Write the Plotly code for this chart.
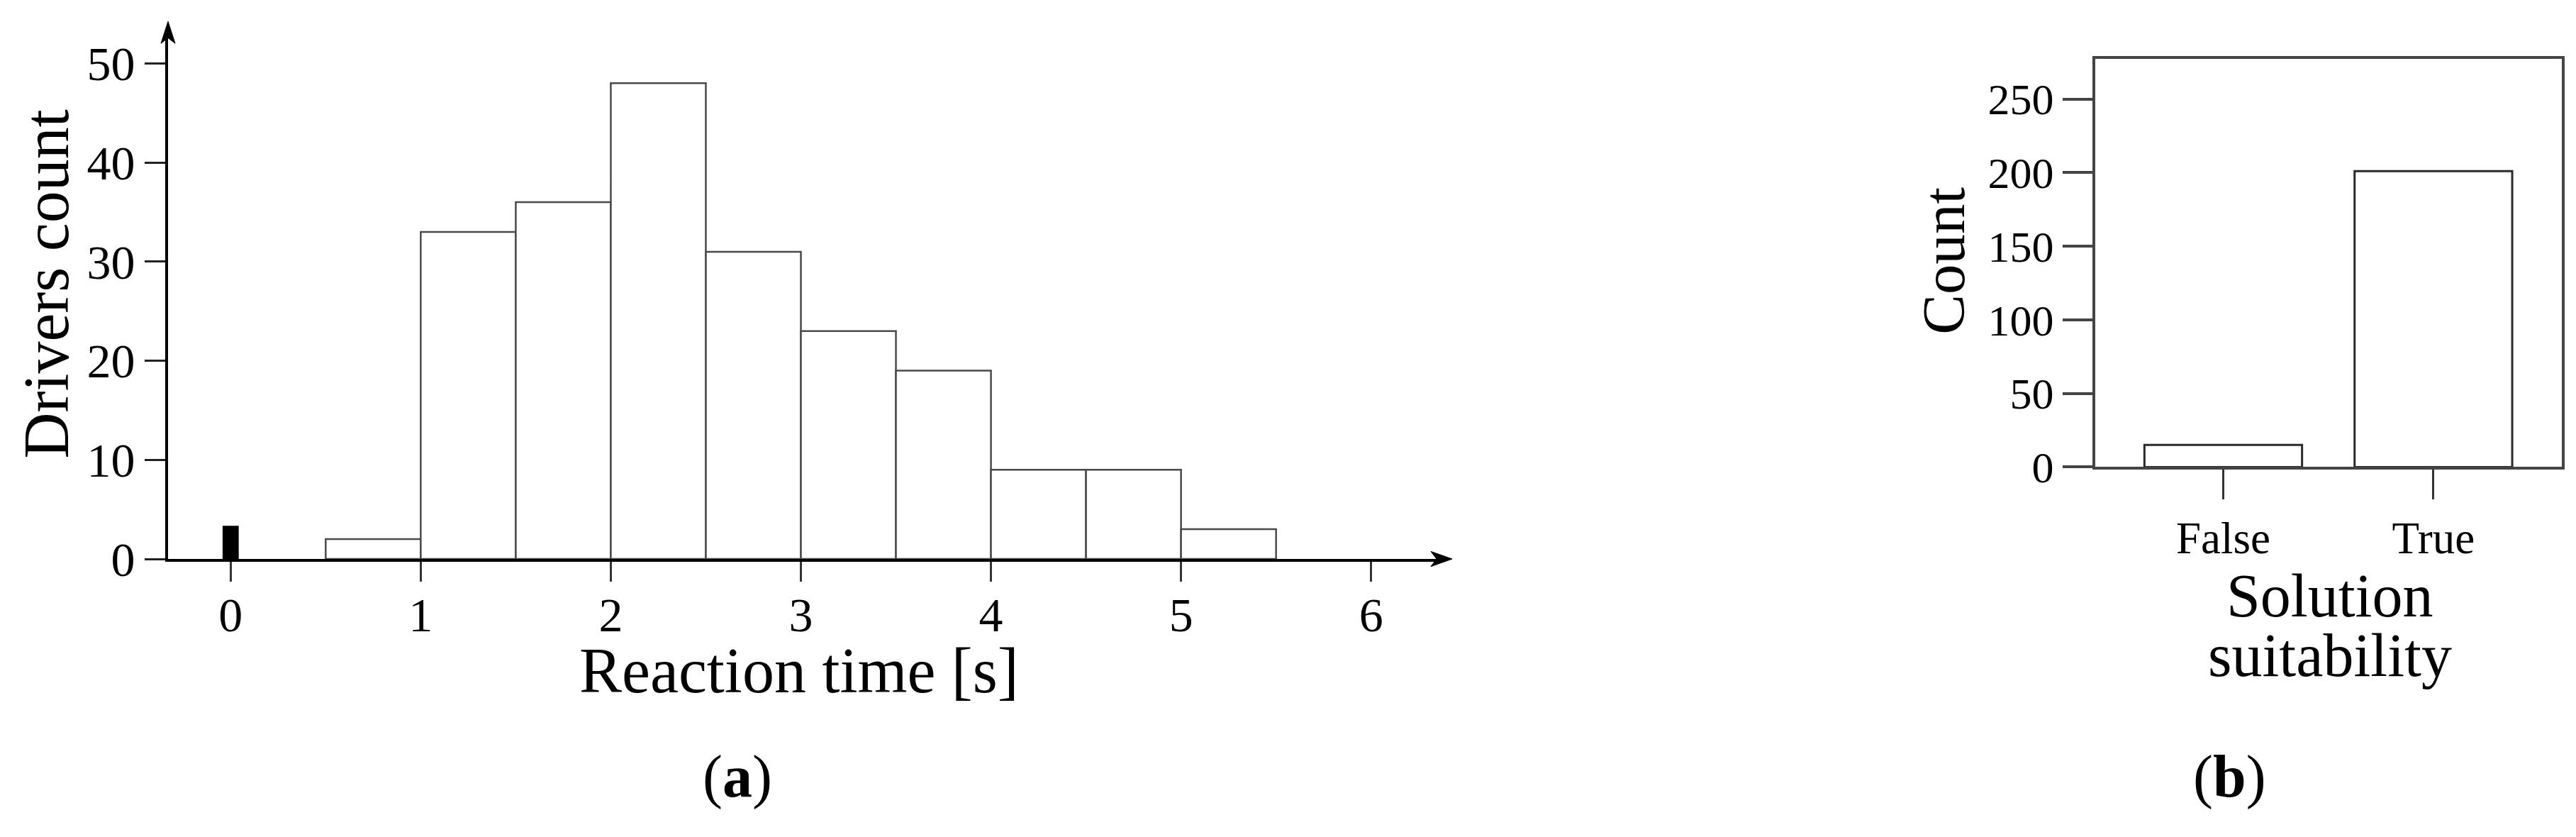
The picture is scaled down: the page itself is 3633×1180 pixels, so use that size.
import plotly.graph_objects as go

# (a) reaction time histogram, bins of 0.5 s
bin_starts = [0.5, 1.0, 1.5, 2.0, 2.5, 3.0, 3.5, 4.0, 4.5, 5.0]
bin_width = 0.5
driver_counts = [2, 33, 36, 48, 31, 23, 19, 9, 9, 3]

# the small black bar sitting at 0 s
zero_time = [0]
zero_count = [3.35]

reaction_ticks = [0, 1, 2, 3, 4, 5, 6]
driver_ticks = [0, 10, 20, 30, 40, 50]

# (b) solution suitability
suit_labels = ["False", "True"]
suit_counts = [15, 201]
count_ticks = [0, 50, 100, 150, 200, 250]

W, H = 3633, 1180
SERIF = "Liberation Serif, Times New Roman, serif"


def px_x(p):
    return p / W


def px_y(p):
    return 1 - p / H


def paper_path(points):
    # closed path in paper coords from pixel points
    parts = [f"{px_x(x):.6f},{px_y(y):.6f}" for x, y in points]
    return "M" + " L".join(parts) + " Z"


# pixel geometry of panel (a)
A_LEFT, A_ZERO_X, A_UNIT_X = 229, 317.3, 268.07
A_ZERO_Y, A_UNIT_Y = 806.7, 14.45
A_RIGHT, A_TOP = 2025, 38
x_lo = (A_LEFT - A_ZERO_X) / A_UNIT_X
x_hi = (A_RIGHT - A_ZERO_X) / A_UNIT_X
y_hi = (A_ZERO_Y - A_TOP) / A_UNIT_Y

fig = go.Figure()

fig.add_trace(go.Bar(
    x=bin_starts, y=driver_counts, width=bin_width, offset=0,
    marker=dict(color="white", line=dict(color="#4a4a4a", width=2.5)),
    xaxis="x", yaxis="y", showlegend=False, hoverinfo="skip",
))
fig.add_trace(go.Bar(
    x=zero_time, y=zero_count, width=0.085,
    marker=dict(color="black", line=dict(width=0)),
    xaxis="x", yaxis="y", showlegend=False, hoverinfo="skip",
))
fig.add_trace(go.Bar(
    x=suit_labels, y=suit_counts, width=0.75,
    marker=dict(color="white", line=dict(color="#2a2a2a", width=3)),
    xaxis="x2", yaxis="y2", showlegend=False, hoverinfo="skip",
))

axis_common = dict(showgrid=False, zeroline=False, ticks="outside", showline=True)

fig.update_layout(
    width=W, height=H,
    margin=dict(l=0, r=0, t=0, b=0),
    paper_bgcolor="white", plot_bgcolor="white",
    barmode="overlay",
    font=dict(family=SERIF, color="black"),
    xaxis=dict(
        **axis_common, domain=[px_x(A_LEFT), px_x(A_RIGHT)], range=[x_lo, x_hi],
        tickvals=reaction_ticks, ticklen=28, tickwidth=3, tickcolor="#333",
        linecolor="black", linewidth=4, tickfont=dict(size=68), anchor="y",
        ticklabelstandoff=-12,
    ),
    yaxis=dict(
        **axis_common, domain=[px_y(A_ZERO_Y), px_y(A_TOP)], range=[0, y_hi],
        tickvals=driver_ticks, ticklen=29, tickwidth=3, tickcolor="#222",
        linecolor="black", linewidth=4, tickfont=dict(size=68), anchor="x",
    ),
    xaxis2=dict(
        **axis_common, domain=[px_x(2946.7), px_x(3604.7)], range=[-0.61, 1.61],
        type="category", ticklen=42, tickwidth=3, tickcolor="#333",
        linecolor="#444", linewidth=3.5, mirror=True,
        tickfont=dict(size=63), anchor="y2",
    ),
    yaxis2=dict(
        **axis_common, domain=[px_y(672.7), px_y(77.7)], range=[0, 277.2],
        tickvals=count_ticks, ticklen=42, tickwidth=3.5, tickcolor="#444",
        linecolor="#444", linewidth=3.5, mirror=True,
        tickfont=dict(size=62), anchor="x2",
    ),
)

# arrow heads on the axes of (a)
tip_x, tip_y = 2040, A_ZERO_Y
fig.add_shape(type="path", xref="paper", yref="paper",
              path=paper_path([(tip_x, tip_y), (tip_x - 30, tip_y - 11),
                               (tip_x - 22, tip_y), (tip_x - 30, tip_y + 11)]),
              fillcolor="black", line=dict(color="black", width=1))
tip_x, tip_y = A_LEFT, 23
fig.add_shape(type="path", xref="paper", yref="paper",
              path=paper_path([(tip_x, tip_y), (tip_x + 10, tip_y + 32),
                               (tip_x, tip_y + 24), (tip_x - 10, tip_y + 32)]),
              fillcolor="black", line=dict(color="black", width=1))

labels = [
    dict(text="Drivers count", x=px_x(58), y=px_y(406), size=90, angle=-90),
    dict(text="Reaction time [s]", x=px_x(1119), y=px_y(970), size=90, angle=0),
    dict(text="(<b>a</b>)", x=px_x(1032), y=px_y(1124), size=84, angle=0),
    dict(text="Count", x=px_x(2733), y=px_y(372), size=85, angle=-90),
    dict(text="Solution", x=px_x(3278), y=px_y(860), size=86, angle=0),
    dict(text="suitability", x=px_x(3278), y=px_y(947), size=86, angle=0),
    dict(text="(<b>b</b>)", x=px_x(3136), y=px_y(1124), size=84, angle=0),
]
for lb in labels:
    fig.add_annotation(
        text=lb["text"], x=lb["x"], y=lb["y"], xref="paper", yref="paper",
        xanchor="center", yanchor="middle", showarrow=False,
        textangle=lb["angle"], font=dict(size=lb["size"], family=SERIF, color="black"),
    )

fig.write_html("out.html")
